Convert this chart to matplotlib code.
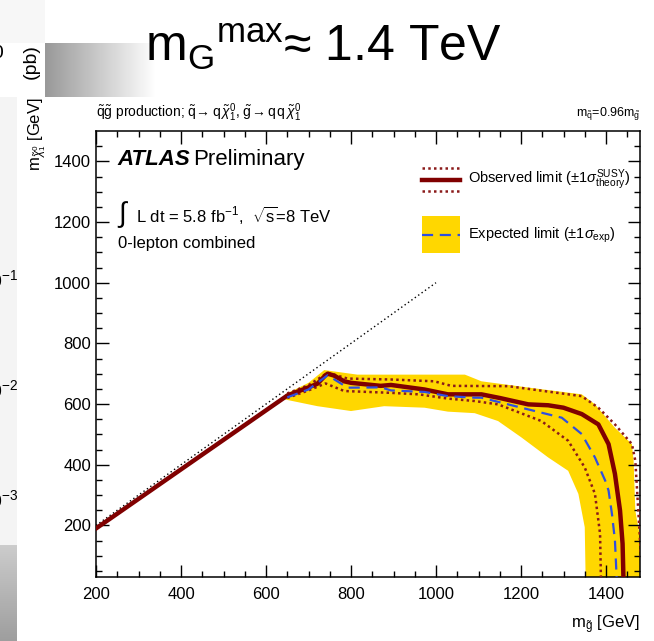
import numpy as np
import matplotlib
matplotlib.use("Agg")
import matplotlib.pyplot as plt
from matplotlib.patches import Rectangle
from matplotlib.lines import Line2D

plt.rcParams["font.family"] = ["Liberation Sans", "DejaVu Sans"]
plt.rcParams["mathtext.fontset"] = "custom"
plt.rcParams["mathtext.rm"] = "Liberation Sans"
plt.rcParams["mathtext.it"] = "Liberation Sans:italic"
plt.rcParams["mathtext.bf"] = "Liberation Sans:bold"
NARROW = ["Liberation Sans Narrow", "Liberation Sans", "DejaVu Sans"]

# ---- limit contours (m_gluino, m_neutralino) in GeV ----
obs_x = [200, 650, 700, 721, 740, 745, 760, 784, 800, 870, 894, 973, 1028, 1091, 1107,
         1150, 1217, 1264, 1300, 1343, 1382, 1406, 1421, 1433, 1439, 1441]
obs_y = [190, 628, 655, 667, 695, 700, 694, 675, 670, 660, 663, 648, 632, 632, 632,
         620, 599, 596, 588, 567, 533, 468, 370, 249, 140, 30]

obs_up_x = [650, 700, 745, 792, 894, 996, 1036, 1170, 1343, 1382, 1421, 1461, 1469, 1476, 1485]
obs_up_y = [635, 662, 703, 684, 681, 675, 660, 659, 626, 588, 533, 468, 413, 249, 30]
obs_dn_x = [650, 700, 740, 784, 894, 960, 1028, 1091, 1146, 1248, 1311, 1350, 1374, 1386, 1388]
obs_dn_y = [620, 645, 668, 643, 637, 632, 618, 610, 599, 544, 479, 391, 304, 173, 30]

exp_x = [650, 700, 745, 792, 871, 894, 973, 1028, 1091, 1107, 1201, 1296, 1343, 1374,
         1398, 1406, 1414, 1421, 1425]
exp_y = [622, 648, 695, 654, 655, 645, 640, 626, 621, 621, 588, 555, 501, 424,
         348, 315, 238, 151, 30]

band_up_x = [645, 700, 737, 815, 973, 1068, 1107, 1225, 1343, 1374, 1421, 1461, 1465, 1469, 1480, 1490]
band_up_y = [632, 670, 712, 697, 697, 697, 675, 653, 632, 599, 522, 468, 413, 249, 162, 30]
band_lo_x = [645, 721, 800, 878, 973, 1028, 1091, 1146, 1201, 1264, 1311, 1335, 1350, 1352]
band_lo_y = [615, 593, 577, 593, 588, 575, 570, 544, 490, 424, 380, 304, 194, 30]

diag_x = [200, 1000]
diag_y = [200, 1000]

xlim = (200, 1480)
ylim = (30, 1500)

fig = plt.figure(figsize=(6.54, 6.41), dpi=100)
W, H = 654, 641

# ---- slide background: back plot edge + drop shadow (decoration) ----
img = np.ones((H, W, 3))
xs = np.arange(W)
shade = np.clip((xs - 45) / 110.0, 0, 1) * 0.40 + 0.60
img[43:97, 45:, :] = shade[45:, None]
img[:43, :45, :] = 0.97
img[97:545, :17, :] = 0.96
g = np.linspace(0.80, 0.62, H - 545)
img[545:, :17, :] = g[:, None, None]
bg = fig.add_axes([0, 0, 1, 1], zorder=-10)
bg.imshow(img, extent=(0, W, H, 0), aspect="auto", interpolation="nearest")
bg.set_xlim(0, W); bg.set_ylim(H, 0); bg.axis("off")

# fragments of the plot behind
fig.text(4 / W, 1 - 53 / H, "10", ha="right", va="center", fontsize=14)
fig.text(31 / W, 1 - 62 / H, "(pb)", rotation=90, ha="center", va="center", fontsize=14)
for yy, ex in ((280, "-1"), (390, "-2"), (500, "-3")):
    fig.text(19 / W, 1 - yy / H, f"10$^{{{ex}}}$", ha="right", va="center", fontsize=14)

# slide title
fig.text(145 / W, 1 - 47 / H, r"m$_\mathrm{G}{}^\mathrm{max}$≈ 1.4 TeV",
         ha="left", va="center", fontsize=36)

# ---- main ATLAS axes ----
ax = fig.add_axes([96 / W, (H - 577) / H, (640 - 96) / W, (577 - 131) / H])
ax.set_xlim(*xlim); ax.set_ylim(*ylim)

ax.fill(band_up_x + band_lo_x[::-1], band_up_y + band_lo_y[::-1],
        color="#ffd700", lw=0, zorder=1)
ax.plot(diag_x, diag_y, color="black", lw=1, ls=(0, (1, 2)), zorder=2)
dot = dict(color="#8b1a1a", lw=1.8, ls=(0, (1, 1.3)), zorder=3)
ax.plot(obs_up_x, obs_up_y, **dot)
ax.plot(obs_dn_x, obs_dn_y, **dot)
ax.plot(obs_x, obs_y, color="#800000", lw=3.2, zorder=4, solid_joinstyle="round")
ax.plot(exp_x, exp_y, color="#2f4fe0", lw=1.6, ls=(0, (5, 3)), zorder=5)

ax.set_xticks([200, 400, 600, 800, 1000, 1200, 1400])
ax.set_yticks([200, 400, 600, 800, 1000, 1200, 1400])
ax.set_xticks(np.arange(250, 1480, 50), minor=True)
ax.set_yticks(np.arange(50, 1500, 50), minor=True)
ax.tick_params(which="both", direction="in", top=True, right=True, width=1,
               labelsize=12)
ax.tick_params(which="major", length=9)
ax.tick_params(which="minor", length=4.5)
ax.tick_params(axis="x", pad=7)
for s in ax.spines.values():
    s.set_linewidth(1.1)

ax.text(1.0, -0.108, r"m$_{\tilde{\mathrm{g}}}$ [GeV]", transform=ax.transAxes,
        ha="right", va="center", fontsize=12)
ax.text(-0.108, 1.075, r"m$_{\tilde{\chi}^0_1}$ [GeV]", transform=ax.transAxes,
        rotation=90, ha="center", va="top", fontsize=12)

ax.text(0.0, 1.04, r"$\tilde{\mathrm{q}}\tilde{\mathrm{g}}$ production; "
        r"$\tilde{\mathrm{q}}\!\rightarrow\mathrm{q}\,\tilde{\chi}^0_1$, "
        r"$\tilde{\mathrm{g}}\!\rightarrow\mathrm{q\,q}\,\tilde{\chi}^0_1$",
        transform=ax.transAxes, ha="left", va="center", fontsize=10, family=NARROW)
ax.text(1.0, 1.04, r"m$_{\tilde{\mathrm{q}}}$=0.96m$_{\tilde{\mathrm{g}}}$",
        transform=ax.transAxes, ha="right", va="center", fontsize=9, family=NARROW)

ax.text(0.039, 0.935, "ATLAS", transform=ax.transAxes, ha="left", va="center",
        fontsize=16, fontweight="bold", fontstyle="italic")
ax.text(0.178, 0.935, "Preliminary", transform=ax.transAxes, ha="left", va="center",
        fontsize=16)
ax.text(0.038, 0.812, r"$\int$", transform=ax.transAxes, ha="left", va="center", fontsize=20)
ax.text(0.073, 0.812, r"L dt = 5.8 fb$^{-1}$,  $\sqrt{\mathrm{s}}$=8 TeV",
        transform=ax.transAxes, ha="left", va="center", fontsize=12, family=NARROW)
ax.text(0.040, 0.747, "0-lepton combined", transform=ax.transAxes, ha="left",
        va="center", fontsize=12, family=NARROW)

# legend (drawn by hand, ROOT style)
t = ax.transAxes
x0, x1 = 0.599, 0.669
ax.add_line(Line2D([x0, x1], [0.890, 0.890], transform=t, color="#800000", lw=3.2))
ax.add_line(Line2D([x0, x1], [0.917, 0.917], transform=t, **dot))
ax.add_line(Line2D([x0, x1], [0.865, 0.865], transform=t, **dot))
ax.add_patch(Rectangle((x0, 0.726), x1 - x0, 0.083, transform=t, color="#ffd700", lw=0))
ax.add_line(Line2D([x0, x1], [0.767, 0.767], transform=t, color="#2f4fe0", lw=1.6,
                   ls=(0, (5, 3))))
ax.text(0.684, 0.890, r"Observed limit ($\pm$1$\sigma^{\mathrm{SUSY}}_{\mathrm{theory}}$)",
        transform=t, ha="left", va="center", fontsize=10.5, family=NARROW)
ax.text(0.684, 0.767, r"Expected limit ($\pm$1$\sigma_{\mathrm{exp}}$)",
        transform=t, ha="left", va="center", fontsize=10.5, family=NARROW)

fig.savefig("out.png", dpi=100)
